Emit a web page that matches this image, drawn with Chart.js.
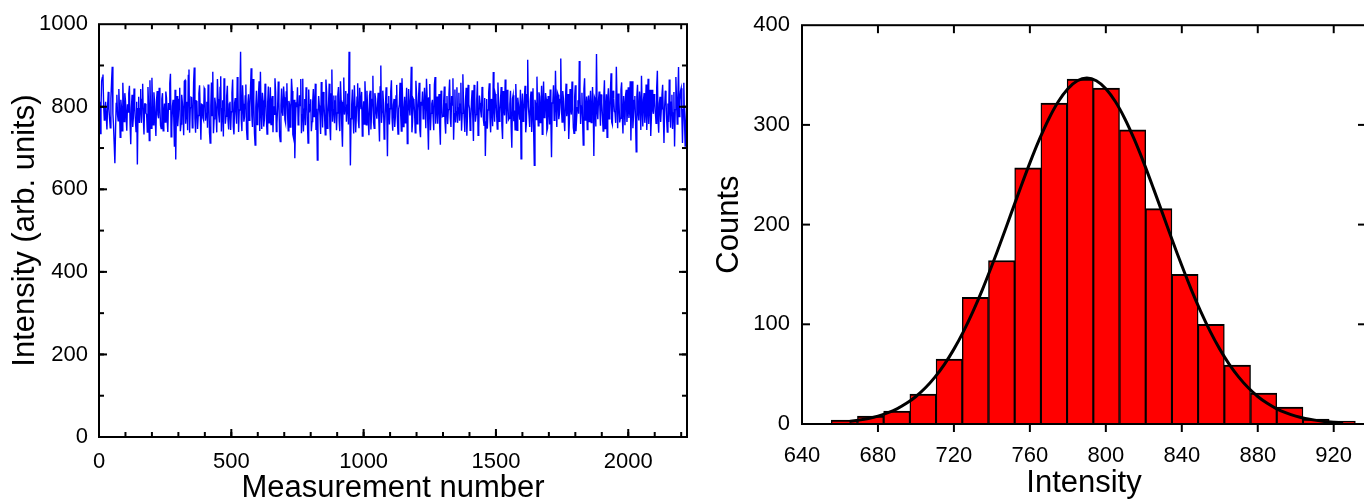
<!DOCTYPE html>
<html><head><meta charset="utf-8">
<script src="https://cdn.jsdelivr.net/npm/chart.js@4.4.1/dist/chart.umd.min.js"></script>
<style>
html,body{margin:0;padding:0;overflow:hidden;background:#fff;width:1364px;height:500px}
#left{position:absolute;left:0;top:0;width:700px;height:500px}
#right{position:absolute;left:700px;top:0;width:680px;height:500px}
</style></head><body>
<canvas id="left" width="700" height="500"></canvas>
<canvas id="right" width="680" height="500"></canvas>
<script>
// ---- Left panel: intensity time trace ----
// samples at measurement numbers 0, 5, 10, ...
const measurementStep = 5;
const intensity = [
790,735,862,878,768,812,745,836,771,820,
897,752,663,808,781,843,726,799,858,764,
815,742,787,851,709,829,776,803,740,660,
824,795,761,856,733,807,782,848,718,790,
870,756,811,729,838,772,801,747,833,785,
763,822,739,794,880,750,817,703,672,826,
779,846,758,810,731,864,787,743,890,798,
822,765,895,737,813,779,852,720,805,768,
841,784,749,827,712,859,885,771,808,738,
819,762,874,795,728,836,777,851,745,812,
788,866,733,821,759,845,792,933,741,807,
776,854,721,830,796,893,751,818,707,839,
783,862,885,746,815,770,828,734,849,792,
757,826,801,869,740,797,812,716,844,778,
823,761,857,742,806,789,838,725,675,811,
847,772,803,736,868,794,755,829,712,786,
818,764,843,801,744,671,826,781,860,750,
809,732,837,774,856,719,890,793,760,827,
785,848,741,815,703,871,797,764,832,933,
658,806,779,852,738,823,767,846,794,729,
813,862,756,798,731,839,784,875,748,820,
771,834,716,900,787,809,753,847,680,826,
795,864,742,819,776,853,734,806,782,869,
752,824,798,711,843,779,897,764,815,737,
830,789,858,726,803,771,846,748,822,696,
855,784,817,743,872,797,759,831,708,811,
777,849,735,826,793,866,751,804,720,842,
788,761,834,806,742,879,773,815,730,853,
796,768,840,717,825,781,862,747,809,774,
836,755,681,819,792,857,738,801,884,764,
823,746,810,783,848,722,797,866,759,814,
772,839,701,828,791,855,743,806,769,674,
832,787,851,760,914,778,816,739,845,658,
807,873,754,825,790,733,861,776,819,748,
794,842,678,812,767,887,751,829,783,917,
763,820,741,856,798,722,843,781,808,736,
852,775,816,911,758,834,707,869,789,745,
827,803,762,848,681,818,928,770,837,754,
811,741,864,792,726,845,779,881,757,821,
786,897,748,813,772,859,735,804,829,763,
847,795,718,862,780,826,691,853,767,810,
875,752,833,789,744,868,806,729,841,783,
818,760,887,737,824,795,853,712,839,771,
808,866,749,829,785,704,872,758,896,815,
845,712,858,705,800
];
// samples half-way between the ones above (measurement numbers 2.5, 7.5, ...)
const intensityMid = [
812,798,871,804,789,776,802,795,749,861,
783,709,741,829,766,791,817,742,806,833,
778,806,832,757,798,751,844,769,812,795,
761,843,818,772,807,784,739,803,864,748,
792,835,768,817,781,846,755,819,742,808,
837,771,809,856,727,802,774,841,795,753,
818,741,829,786,862,759,812,876,737,823,
749,858,771,814,746,832,787,806,773,845,
766,812,854,738,801,779,736,822,784,867,
781,847,740,816,869,759,826,768,807,744,
833,752,809,784,872,739,818,770,852,764,
826,745,808,767,841,779,867,735,799,757,
828,741,790,834,752,856,773,811,761,847,
814,738,782,835,759,861,729,803,788,849,
769,836,784,814,751,868,733,817,762,799,
756,828,867,781,740,819,847,763,842,805,
741,811,776,856,795,774,803,734,811,836,
775,866,748,809,752,831,764,827,814,743,
829,766,862,752,810,781,838,804,757,814,
771,842,735,801,779,857,748,813,836,782,
758,809,839,767,828,745,818,762,833,786,
805,767,848,761,839,722,803,784,806,757,
837,771,804,751,826,768,795,858,741,812,
786,761,846,774,803,822,738,819,786,863,
759,821,744,812,837,789,809,868,759,822,
743,807,776,854,759,825,808,752,839,776,
812,764,807,758,831,774,826,869,783,762,
847,797,766,858,784,811,739,846,779,806,
743,812,776,853,764,818,731,827,789,848,
770,821,763,747,834,772,819,753,796,831,
784,859,765,821,754,838,779,812,841,769,
806,751,819,765,744,803,822,785,841,803,
765,822,738,829,800,751,837,786,742,817,
769,791,835,762,851,807,774,833,741,826,
757,773,809,852,768,805,834,770,818,796,
838,769,812,777,831,764,792,861,749,824,
741,798,783,832,802,766,843,768,825,808,
764,839,784,797,823,752,789,815,802,830,
778,823,747,830,819,771,836,763,839,789,
761,818,832,762,841,778,826,755,841,792,
773,862,804,748,815,768,825,782,837,744,
798,816,761,854,792,758,841,775,793,831,
786,846,773,808,763,829,781,798,819,739,
763,797,811,746,836,793,817,821,776,838,
781,793,767,762
];
const leftXTickValues = [0, 500, 1000, 1500, 2000];
const leftYTickValues = [0, 200, 400, 600, 800, 1000];

// ---- Right panel: histogram of intensities + Gaussian fit ----
const binCenters = [662.3, 676.1, 689.9, 703.7, 717.5, 731.3, 745.1, 758.9, 772.7, 786.5,
                    800.3, 814.1, 827.9, 841.7, 855.5, 869.3, 883.1, 896.9, 910.7, 924.5];
const binCounts  = [4, 8, 13, 30, 65, 127, 164, 257, 322, 346,
                    337, 295, 216, 150, 100, 59, 31, 17, 5, 3];
const fitIntensity = [665,670,675,680,685,690,695,700,705,710,715,720,725,730,735,740,745,750,755,760,
                      765,770,775,780,785,790,795,800,805,810,815,820,825,830,835,840,845,850,855,860,
                      865,870,875,880,885,890,895,900,905,910,915,920,925];
const fitCounts = [2.6,3.9,5.6,7.9,11.1,15.2,20.7,27.6,36.3,47.0,59.8,75.1,92.7,112.7,134.8,158.9,184.3,210.5,236.6,261.9,
                   285.4,306.2,323.4,336.3,344.3,347.0,344.3,336.3,323.4,306.2,285.4,261.9,236.6,210.5,184.3,158.9,134.8,112.7,92.7,75.1,
                   59.8,47.0,36.3,27.6,20.7,15.2,11.1,7.9,5.6,3.9,2.6,1.8,1.2];
const rightXTickValues = [640, 680, 720, 760, 800, 840, 880, 920];
const rightYTickValues = [0, 100, 200, 300, 400];

const FONT = "'Liberation Sans', Arial, Helvetica, sans-serif";
Chart.defaults.font.family = FONT;
Chart.defaults.color = '#000';

// build trace points from the two sample arrays
const tracePoints = [];
intensity.forEach((v, i) => {
  tracePoints.push({x: i * measurementStep, y: v});
  if (i < intensityMid.length) tracePoints.push({x: i * measurementStep + measurementStep / 2, y: intensityMid[i]});
});

// Frame + tick marks drawn from the chart's own scales
const frameTicks = {
  id: 'frameTicks',
  afterDatasetsDraw(chart, args, o) {
    const {ctx, chartArea: a, scales: {x, y}} = chart;
    ctx.save();
    ctx.strokeStyle = '#000';
    ctx.lineWidth = 2;
    ctx.lineCap = 'butt';
    const line = (x1, y1, x2, y2) => { ctx.beginPath(); ctx.moveTo(x1, y1); ctx.lineTo(x2, y2); ctx.stroke(); };
    const xTicks = (step, len) => {
      for (let v = Math.ceil(x.min / step) * step; v <= x.max + 1e-9; v += step) {
        const p = x.getPixelForValue(v);
        if (p <= a.left + 1 || p >= a.right - 1) continue;
        line(p, a.top, p, a.top + len);
        if (o.bottomOut) line(p, a.bottom, p, a.bottom + len);
        else line(p, a.bottom, p, a.bottom - len);
      }
    };
    const yTicks = (step, len) => {
      for (let v = Math.ceil(y.min / step) * step; v <= y.max + 1e-9; v += step) {
        const p = y.getPixelForValue(v);
        if (p <= a.top + 1 || p >= a.bottom - 1) continue;
        line(a.left, p, a.left + len, p);
        line(a.right, p, a.right - len, p);
      }
    };
    if (o.xMinor) xTicks(o.xMinor, o.minorLen);
    xTicks(o.xMajor, o.majorLen);
    if (o.yMinor) yTicks(o.yMinor, o.minorLen);
    yTicks(o.yMajor, o.majorLen);
    ctx.strokeRect(a.left, a.top, a.right - a.left, a.bottom - a.top);
    ctx.restore();
  }
};

const tickFont = {size: 22, family: FONT};
const titleFont = {size: 31, family: FONT, lineHeight: 1};

new Chart(document.getElementById('left'), {
  type: 'line',
  data: {
    datasets: [{
      data: tracePoints,
      borderColor: '#0000ff',
      borderWidth: 1.4,
      pointRadius: 0,
      tension: 0,
      fill: false
    }]
  },
  options: {
    responsive: false,
    animation: false,
    layout: {padding: {top: 24, right: 13, left: 0, bottom: 0}},
    plugins: {legend: {display: false}, tooltip: {enabled: false},
      frameTicks: {xMajor: 500, xMinor: 100, yMajor: 200, yMinor: 100, majorLen: 8, minorLen: 5, bottomOut: false}},
    scales: {
      x: {
        type: 'linear', min: 0, max: 2222,
        grid: {display: false, drawTicks: false}, border: {display: false},
        afterBuildTicks: s => { s.ticks = leftXTickValues.map(v => ({value: v})); },
        ticks: {font: tickFont, color: '#000', padding: 12, maxRotation: 0, autoSkip: false, callback: v => String(v)},
        title: {display: true, text: 'Measurement number', font: titleFont, color: '#000', padding: {top: 0, bottom: -4}},
        afterFit: s => { s.height = 63; }
      },
      y: {
        min: 0, max: 1000,
        grid: {display: false, drawTicks: false}, border: {display: false},
        afterBuildTicks: s => { s.ticks = leftYTickValues.map(v => ({value: v})); },
        ticks: {font: tickFont, color: '#000', padding: 11, callback: v => String(v)},
        title: {display: true, text: 'Intensity (arb. units)', font: titleFont, color: '#000', padding: {top: 10, bottom: 0}},
        afterFit: s => { s.width = 99; }
      }
    }
  },
  plugins: [frameTicks]
});

new Chart(document.getElementById('right'), {
  type: 'bar',
  data: {
    datasets: [
      {
        type: 'line',
        data: fitIntensity.map((v, i) => ({x: v, y: fitCounts[i]})),
        borderColor: '#000',
        borderWidth: 3,
        pointRadius: 0,
        tension: 0.3,
        fill: false,
        order: 0
      },
      {
        type: 'bar',
        data: binCenters.map((v, i) => ({x: v, y: binCounts[i]})),
        backgroundColor: '#ff0000',
        borderColor: '#000',
        borderWidth: {top: 2, left: 1.4, right: 1.4, bottom: 0},
        borderSkipped: 'start',
        barPercentage: 1,
        categoryPercentage: 1,
        order: 1
      }
    ]
  },
  options: {
    responsive: false,
    animation: false,
    layout: {padding: {top: 24, right: 14, left: 0, bottom: 0}},
    plugins: {legend: {display: false}, tooltip: {enabled: false},
      frameTicks: {xMajor: 40, yMajor: 100, majorLen: 8, minorLen: 5, bottomOut: true}},
    scales: {
      x: {
        type: 'linear', min: 640, max: 937, offset: false,
        grid: {display: false, drawTicks: false, offset: false}, border: {display: false},
        afterBuildTicks: s => { s.ticks = rightXTickValues.map(v => ({value: v})); },
        ticks: {font: tickFont, color: '#000', padding: 19, maxRotation: 0, autoSkip: false, callback: v => String(v)},
        title: {display: true, text: 'Intensity', font: titleFont, color: '#000', padding: {top: 0, bottom: 1}},
        afterFit: s => { s.height = 76; }
      },
      y: {
        min: 0, max: 400,
        grid: {display: false, drawTicks: false}, border: {display: false},
        afterBuildTicks: s => { s.ticks = rightYTickValues.map(v => ({value: v})); },
        ticks: {font: tickFont, color: '#000', padding: 12, callback: v => String(v)},
        title: {display: true, text: 'Counts', font: titleFont, color: '#000', padding: {top: 14, bottom: 0}},
        afterFit: s => { s.width = 102; }
      }
    }
  },
  plugins: [frameTicks]
});
</script></body></html>
